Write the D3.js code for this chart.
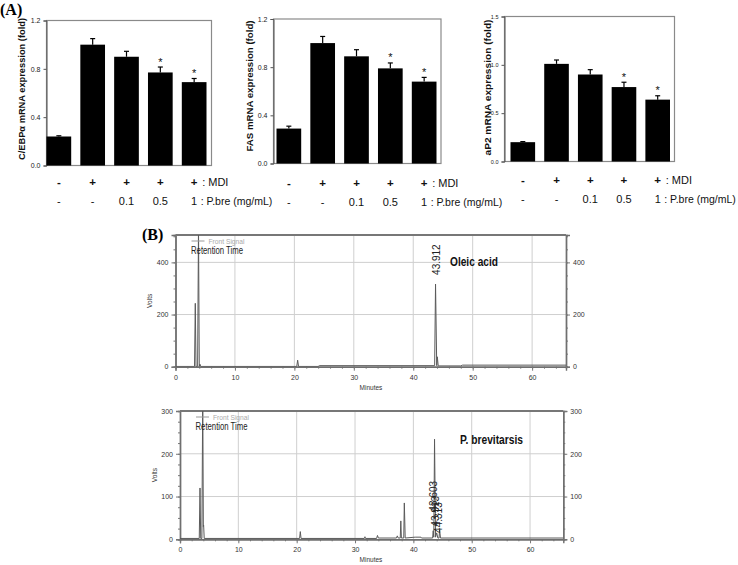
<!DOCTYPE html>
<html>
<head>
<meta charset="utf-8">
<script src="https://cdn.jsdelivr.net/npm/d3@7"></script>
<style>
  html, body { margin: 0; padding: 0; background: #fff; }
  svg { display: block; }
</style>
</head>
<body>
<svg id="fig" width="738" height="565"></svg>
<script>
// ---------------- DATA ----------------
const groups = ["ctrl", "MDI", "MDI+0.1", "MDI+0.5", "MDI+1"];
const mdiRow = ["-", "+", "+", "+", "+"];
const pbreRow = ["-", "-", "0.1", "0.5", "1"];
const significant = [false, false, false, true, true];

const cebpValues = [0.24, 1.00, 0.90, 0.77, 0.69];
const cebpErrors = [0.006, 0.05, 0.045, 0.045, 0.03];
const fasValues = [0.29, 1.00, 0.89, 0.79, 0.68];
const fasErrors = [0.02, 0.055, 0.055, 0.045, 0.035];
const ap2Values = [0.20, 1.01, 0.90, 0.77, 0.64];
const ap2Errors = [0.006, 0.04, 0.05, 0.05, 0.04];

const ticks12 = [0, 0.4, 0.8, 1.2];
const ticks15 = [0, 0.5, 1.0, 1.5];

// chromatograms: [minutes, volts]
const oleicTrace = [
  [0, 1], [3.2, 1], [3.33, 243], [3.45, 1], [3.72, 1], [3.87, 540], [4.0, 1],
  [4.1, 10], [4.25, 1], [20.4, 1], [20.55, 25], [20.7, 1], [24.0, 1], [24.2, 4],
  [43.6, 4], [43.75, 317], [43.95, 4], [44.05, 38], [44.2, 3], [48.0, 3],
  [48.3, 6], [65.7, 6]
];
const brevTrace = [
  [0, 2], [3.3, 2], [3.43, 120], [3.55, 2], [3.75, 2], [3.9, 340], [4.0, 30],
  [4.05, 33], [4.15, 2], [20.5, 2], [20.62, 18], [20.75, 2], [31.6, 2],
  [31.7, 6], [31.8, 2], [33.7, 2], [33.85, 9], [34.0, 3], [37.1, 3], [37.25, 8],
  [37.4, 3], [37.75, 3], [37.85, 43], [37.95, 3], [38.35, 3], [38.45, 85],
  [38.6, 3], [40.3, 5], [41.3, 5], [41.4, 3], [43.3, 3], [43.4, 20], [43.5, 5],
  [43.63, 234], [43.8, 5], [44.0, 15], [44.2, 3], [44.4, 3], [44.5, 22],
  [44.65, 3], [65.7, 3]
];
const oleicLabels = [{ t: 43.9, v: 352, text: "43.912" }];
const brevLabels = [
  { t: 43.45, v: 65, text: "43.603" },
  { t: 43.85, v: 30, text: "43.913" },
  { t: 44.25, v: 15, text: "44.313" }
];
const topYTicks = [0, 200, 400];
const botYTicks = [0, 100, 200, 300];
const minuteTicks = [0, 10, 20, 30, 40, 50, 60];

// ---------------- DRAWING ----------------
const SANS = "'Liberation Sans',Arial,Helvetica,sans-serif";
const svg = d3.select("#fig");

svg.append("text").attr("x", 0).attr("y", 15)
  .attr("font-family", "'Liberation Serif','Times New Roman',serif")
  .attr("font-weight", "bold").attr("font-size", 16).text("(A)");
svg.append("text").attr("x", 142).attr("y", 240)
  .attr("font-family", "'Liberation Serif','Times New Roman',serif")
  .attr("font-weight", "bold").attr("font-size", 16).text("(B)");

function barChart(cfg) {
  const g = svg.append("g");
  const y = d3.scaleLinear().domain(cfg.domain).range([cfg.bottom, cfg.top]);
  const x = d3.scaleBand().domain(groups).range(cfg.barRange)
    .paddingInner(0.27).paddingOuter(0);

  // frame
  g.append("rect").attr("x", cfg.left).attr("y", cfg.top)
    .attr("width", cfg.right - cfg.left).attr("height", cfg.bottom - cfg.top)
    .attr("fill", "none").attr("stroke", "#8a8a8a").attr("stroke-width", 1.2);

  // y axis
  const ax = g.append("g").attr("transform", `translate(${cfg.left},0)`)
    .call(d3.axisLeft(y).tickValues(cfg.ticks).tickFormat(d3.format(".1f"))
      .tickSize(3).tickPadding(3));
  ax.select(".domain").attr("stroke", "#555");
  ax.selectAll(".tick line").attr("stroke", "#555");
  ax.selectAll("text").attr("font-family", SANS).attr("font-size", cfg.tickFont)
    .attr("fill", "#222");

  // bars
  g.selectAll(".bar").data(cfg.values).join("rect")
    .attr("x", (d, i) => x(groups[i]))
    .attr("y", d => y(d))
    .attr("width", x.bandwidth())
    .attr("height", d => y(0) - y(d))
    .attr("fill", "#000");

  // error bars
  cfg.values.forEach((v, i) => {
    const cx = x(groups[i]) + x.bandwidth() / 2;
    const top = y(v + cfg.errors[i]);
    g.append("line").attr("x1", cx).attr("x2", cx).attr("y1", y(v)).attr("y2", top)
      .attr("stroke", "#000").attr("stroke-width", 1.2);
    g.append("line").attr("x1", cx - 2.5).attr("x2", cx + 2.5).attr("y1", top).attr("y2", top)
      .attr("stroke", "#000").attr("stroke-width", 1.2);
    if (significant[i]) {
      g.append("text").attr("x", cx).attr("y", top - 1.5)
        .attr("text-anchor", "middle").attr("font-family", SANS)
        .attr("font-size", 11).attr("fill", "#111").text("*");
    }
  });

  // y label
  g.append("text")
    .attr("transform", `translate(${cfg.labelX},${cfg.labelY}) rotate(-90)`)
    .attr("text-anchor", "middle").attr("dominant-baseline", "central")
    .attr("font-family", SANS).attr("font-weight", "bold")
    .attr("font-size", 9.5).attr("fill", "#111")
    .attr("textLength", cfg.labelLen).attr("lengthAdjust", "spacingAndGlyphs")
    .text(cfg.label);

  // condition rows
  const cxs = groups.map(gp => x(gp) + x.bandwidth() / 2);
  mdiRow.forEach((s, i) => {
    g.append("text").attr("x", cxs[i]).attr("y", cfg.row1)
      .attr("text-anchor", "middle").attr("font-family", SANS)
      .attr("font-size", 11.5).attr("font-weight", "bold").attr("fill", "#111").text(s);
  });
  pbreRow.forEach((s, i) => {
    g.append("text").attr("x", cxs[i]).attr("y", cfg.row2)
      .attr("text-anchor", "middle").attr("font-family", SANS)
      .attr("font-size", 11).attr("fill", "#111").text(s);
  });
  g.append("text").attr("x", cxs[4] + 8).attr("y", cfg.row1)
    .attr("font-family", SANS).attr("font-size", 11).attr("fill", "#111").text(": MDI");
  g.append("text").attr("x", cxs[4] + 6.5).attr("y", cfg.row2)
    .attr("font-family", SANS).attr("font-size", 10.5).attr("fill", "#111").text(": P.bre (mg/mL)");
}

barChart({
  left: 46.5, right: 211.5, top: 20.5, bottom: 165.5, barRange: [46.5, 206.5],
  domain: [0, 1.2], ticks: ticks12, tickFont: 7, values: cebpValues, errors: cebpErrors,
  label: "C/EBPα mRNA expression (fold)", labelX: 21.5, labelY: 89, labelLen: 142,
  row1: 185.5, row2: 205
});
barChart({
  left: 273.5, right: 441, top: 19, bottom: 163.5, barRange: [276.5, 436.5],
  domain: [0, 1.2], ticks: ticks12, tickFont: 7, values: fasValues, errors: fasErrors,
  label: "FAS mRNA expression (fold)", labelX: 249.5, labelY: 86, labelLen: 131,
  row1: 186.5, row2: 205.5
});
barChart({
  left: 504.5, right: 674.5, top: 16.5, bottom: 161.5, barRange: [510.5, 670],
  domain: [0, 1.5], ticks: ticks15, tickFont: 5.5, values: ap2Values, errors: ap2Errors,
  label: "aP2 mRNA expression (fold)", labelX: 487, labelY: 87.5, labelLen: 136,
  row1: 184, row2: 203
});

function chromatogram(cfg, idx) {
  const g = svg.append("g");
  const x = d3.scaleLinear().domain([0, 65.7]).range([cfg.left, cfg.right]);
  const y = d3.scaleLinear().domain([0, cfg.ymax]).range([cfg.bottom, cfg.top]);
  const clipId = "clip" + idx;
  g.append("clipPath").attr("id", clipId).append("rect")
    .attr("x", cfg.left).attr("y", cfg.top)
    .attr("width", cfg.right - cfg.left).attr("height", cfg.bottom - cfg.top);

  // grid
  g.selectAll(".vg").data(minuteTicks.filter(d => d > 0)).join("line")
    .attr("x1", d => x(d)).attr("x2", d => x(d)).attr("y1", cfg.top).attr("y2", cfg.bottom)
    .attr("stroke", "#cfcfcf").attr("stroke-width", 1);
  g.selectAll(".hg").data(cfg.yTicks.filter(d => d > 0 && d < cfg.ymax - 1)).join("line")
    .attr("x1", cfg.left).attr("x2", cfg.right).attr("y1", d => y(d)).attr("y2", d => y(d))
    .attr("stroke", "#cfcfcf").attr("stroke-width", 1);

  // axes with minor ticks
  const styleAxis = sel => {
    sel.select(".domain").attr("stroke", "#6f6f6f").attr("stroke-width", 1.4);
    sel.selectAll(".tick line").attr("stroke", "#777");
    sel.selectAll("text").attr("font-family", SANS).attr("font-size", 7).attr("fill", "#333");
  };
  const minorX = d3.range(0, 66, 2);
  g.append("g").attr("transform", `translate(0,${cfg.bottom})`)
    .call(d3.axisBottom(x).tickValues(minorX).tickSize(2).tickFormat(""))
    .call(styleAxis);
  g.append("g").attr("transform", `translate(0,${cfg.bottom})`)
    .call(d3.axisBottom(x).tickValues(minuteTicks).tickSize(4).tickPadding(4))
    .call(styleAxis);
  const minorY = d3.range(0, cfg.ymax + 1, cfg.minorStep);
  [["L", cfg.left], ["R", cfg.right]].forEach(([side, px]) => {
    const mk = side === "L" ? d3.axisLeft : d3.axisRight;
    g.append("g").attr("transform", `translate(${px},0)`)
      .call(mk(y).tickValues(minorY).tickSize(2).tickFormat(""))
      .call(styleAxis);
    g.append("g").attr("transform", `translate(${px},0)`)
      .call(mk(y).tickValues(cfg.yTicks).tickSize(4).tickPadding(3))
      .call(styleAxis);
  });
  // top frame line
  g.append("line").attr("x1", cfg.left).attr("x2", cfg.right)
    .attr("y1", cfg.top).attr("y2", cfg.top).attr("stroke", "#777").attr("stroke-width", 2);

  // trace
  g.append("path").datum(cfg.trace)
    .attr("clip-path", `url(#${clipId})`)
    .attr("d", d3.line().x(d => x(d[0])).y(d => y(d[1])))
    .attr("fill", "none").attr("stroke", "#5a5a5a").attr("stroke-width", 1);

  // peak labels
  cfg.labels.forEach(l => {
    g.append("text")
      .attr("transform", `translate(${x(l.t)},${y(l.v)}) rotate(-90)`)
      .attr("dominant-baseline", "central")
      .attr("font-family", SANS).attr("font-size", 10).attr("fill", "#222")
      .text(l.text);
  });

  // legend
  g.append("line").attr("x1", cfg.left + 16).attr("x2", cfg.left + 29)
    .attr("y1", cfg.top + 6).attr("y2", cfg.top + 6).attr("stroke", "#999").attr("stroke-width", 1);
  g.append("text").attr("x", cfg.left + 33).attr("y", cfg.top + 8.5)
    .attr("font-family", SANS).attr("font-size", 7).attr("fill", "#aaa")
    .attr("textLength", 36).attr("lengthAdjust", "spacingAndGlyphs").text("Front Signal");
  g.append("text").attr("x", cfg.left + 15.5).attr("y", cfg.top + 18.5)
    .attr("font-family", SANS).attr("font-size", 11).attr("fill", "#222")
    .attr("textLength", 52).attr("lengthAdjust", "spacingAndGlyphs").text("Retention Time");

  // title
  g.append("text").attr("x", cfg.titleX).attr("y", cfg.titleY)
    .attr("font-family", SANS).attr("font-weight", "bold").attr("font-size", 13)
    .attr("fill", "#111").attr("textLength", cfg.titleLen).attr("lengthAdjust", "spacingAndGlyphs")
    .text(cfg.title);

  // axis titles
  g.append("text").attr("transform", `translate(${cfg.left - 26},${(cfg.top + cfg.bottom) / 2}) rotate(-90)`)
    .attr("text-anchor", "middle").attr("dominant-baseline", "central")
    .attr("font-family", SANS).attr("font-size", 6.5).attr("fill", "#333").text("Volts");
  g.append("text").attr("x", cfg.minutesX).attr("y", cfg.bottom + 23)
    .attr("text-anchor", "middle")
    .attr("font-family", SANS).attr("font-size", 6.5).attr("fill", "#333").text("Minutes");
}

chromatogram({
  left: 175.5, right: 566, top: 235, bottom: 366.7, ymax: 505, yTicks: topYTicks,
  minorStep: 50, trace: oleicTrace, labels: oleicLabels,
  title: "Oleic acid", titleX: 450, titleY: 265.5, titleLen: 48, minutesX: 371
}, 1);
chromatogram({
  left: 180, right: 563.3, top: 411, bottom: 539.3, ymax: 300, yTicks: botYTicks,
  minorStep: 25, trace: brevTrace, labels: brevLabels,
  title: "P. brevitarsis", titleX: 460, titleY: 443.5, titleLen: 63, minutesX: 371
}, 2);
</script>
</body>
</html>
